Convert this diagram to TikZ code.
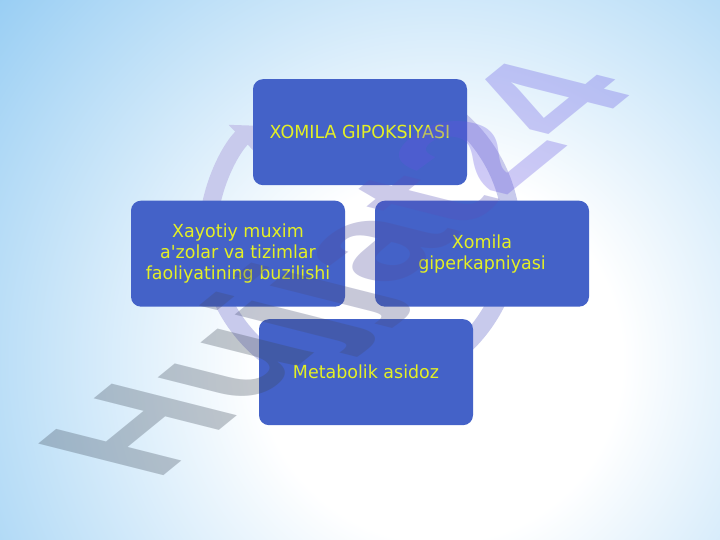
\documentclass[tikz,border=0pt]{standalone}
\usepackage{fontspec}
\newfontfamily\boxfont{DejaVu Sans}[FakeStretch=0.97, Ligatures=TeXOff]
\newfontfamily\wmfont{Liberation Sans}
\usetikzlibrary{arrows.meta}
\definecolor{bgblue}{RGB}{132,196,241}
\definecolor{boxblue}{RGB}{68,98,200}
\definecolor{txtyellow}{RGB}{228,240,36}
\definecolor{arcblue}{RGB}{200,202,236}
\definecolor{wmA}{RGB}{60,72,88}
\definecolor{wmB}{RGB}{100,84,226}
\pgfdeclareradialshading{bgsh}{\pgfpoint{0bp}{0bp}}{color(0bp)=(white); color(7bp)=(white); color(25bp)=(bgblue); color(50bp)=(bgblue)}
\tikzset{
  cyclebox/.style={rounded corners=10pt, fill=boxblue, minimum width=214pt, minimum height=106pt,
    text=txtyellow, align=center, inner sep=0pt, font=\boxfont\fontsize{18}{21}\selectfont},
  cyclearc/.style={arcblue, line width=18pt, -{Triangle[width=36pt,length=18pt]}},
  wmark/.style={transform shape, inner sep=0pt, opacity=0.3, font=\wmfont\bfseries\fontsize{100}{100}\selectfont}
}
\begin{document}
\begin{tikzpicture}[x=1pt,y=1pt]
\useasboundingbox (0,0) rectangle (720,540);
\begin{scope}
  \clip (0,0) rectangle (720,540);
  \shade[shading=bgsh] (440,180) circle (650);
\end{scope}
% circular arrow
\coordinate (cc) at (360,305);
\draw[cyclearc] ([shift={(50:152)}]cc) arc[start angle=50, end angle=-226, radius=152];
% boxes
\node[cyclebox] (top) at (360,407.8) {XOMILA GIPOKSIYASI};
\node[cyclebox] (left) at (238,286.3) {Xayotiy muxim\\a'zolar va tizimlar\\faoliyatining buzilishi};
\node[cyclebox] (right) at (482,286.3) {Xomila\\giperkapniyasi};
\node[cyclebox] (bottom) at (366,167.8) {Metabolik asidoz};
% watermark
\begin{scope}[cm={1.25,1.02,-1.82,0.46,(352,268)}]
\node[wmark] (wm) at (0,0) {\color{wmA}Hu\color{wmB!15!wmA}j\color{wmB!30!wmA}j\color{wmB!50!wmA}a\color{wmB!70!wmA}t\color{wmB}24};
\end{scope}
\end{tikzpicture}
\end{document}
